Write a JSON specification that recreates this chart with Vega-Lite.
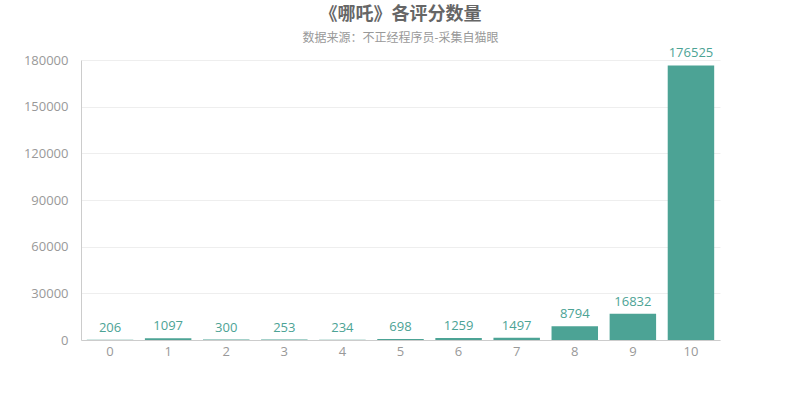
{
  "$schema": "https://vega.github.io/schema/vega-lite/v6.json",
  "width": 639,
  "height": 280,
  "autosize": {"type": "none"},
  "padding": {"left": 81, "top": 60, "right": 80, "bottom": 60},
  "background": "#ffffff",
  "title": {
    "text": "《哪吒》各评分数量",
    "subtitle": "数据来源：不正经程序员-采集自猫眼",
    "anchor": "middle",
    "font": "Open Sans, Noto Sans CJK SC",
    "fontSize": 18,
    "fontWeight": "bold",
    "color": "#666666",
    "subtitleFont": "Open Sans, Noto Sans CJK SC",
    "subtitleFontSize": 12,
    "subtitleColor": "#999999",
    "subtitlePadding": 9,
    "offset": 3
  },
  "data": {
    "values": [
      {"score": "0", "count": 206},
      {"score": "1", "count": 1097},
      {"score": "2", "count": 300},
      {"score": "3", "count": 253},
      {"score": "4", "count": 234},
      {"score": "5", "count": 698},
      {"score": "6", "count": 1259},
      {"score": "7", "count": 1497},
      {"score": "8", "count": 8794},
      {"score": "9", "count": 16832},
      {"score": "10", "count": 176525}
    ]
  },
  "encoding": {
    "x": {
      "field": "score",
      "type": "nominal",
      "sort": null,
      "title": null,
      "scale": {"paddingInner": 0.2, "paddingOuter": 0.1},
      "axis": {
        "labelAngle": 0,
        "labelColor": "#999999",
        "labelFontSize": 13,
        "labelFont": "Open Sans",
        "ticks": false,
        "labelPadding": 5,
        "domainColor": "#cccccc",
        "grid": false
      }
    },
    "y": {
      "field": "count",
      "type": "quantitative",
      "title": null,
      "scale": {"domain": [0, 180000], "nice": false},
      "axis": {
        "values": [0, 30000, 60000, 90000, 120000, 150000, 180000],
        "format": "d",
        "labelColor": "#999999",
        "labelFontSize": 13,
        "labelFont": "Open Sans",
        "ticks": false,
        "labelPadding": 13,
        "domainColor": "#cccccc",
        "gridColor": "#eeeeee"
      }
    }
  },
  "layer": [
    {"mark": {"type": "bar", "color": "#4ca395"}},
    {
      "mark": {"type": "text", "dy": -12, "color": "#4ca395", "fontSize": 13, "font": "Open Sans"},
      "encoding": {"text": {"field": "count", "type": "quantitative", "format": "d"}}
    }
  ],
  "config": {"view": {"stroke": null}}
}
